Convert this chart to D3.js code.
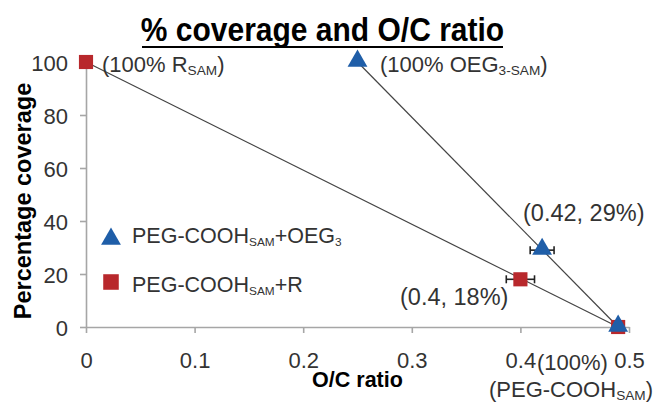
<!DOCTYPE html>
<html>
<head>
<meta charset="utf-8">
<script src="https://cdn.jsdelivr.net/npm/d3@7"></script>
<style>
  body { margin: 0; background: #fff; }
  svg text { font-family: "Liberation Sans", Arial, sans-serif; }
</style>
</head>
<body>
<svg id="chart" width="657" height="405"></svg>
<script>
// data
const xTicks = [0, 0.1, 0.2, 0.3, 0.4, 0.5];
const yTicks = [0, 20, 40, 60, 80, 100];
const oegX = [0.25, 0.42, 0.49];
const oegY = [100, 29, 0];
const oegErr = [0, 0.011, 0.004];
const rX = [0, 0.4, 0.49];
const rY = [100, 18, 0];
const rErr = [0, 0.013, 0];

const blue = '#1f5ea8';
const red = '#b8282c';

const width = 657, height = 405;
const margin = { top: 62, right: 28, bottom: 78, left: 86 };

const svg = d3.select('#chart');

const x = d3.scaleLinear().domain([0, 0.5]).range([margin.left, width - margin.right]);
const y = d3.scaleLinear().domain([0, 100]).range([height - margin.bottom, margin.top]);

// axes
const xAxis = svg.append('g')
  .attr('transform', `translate(0,${y(0)})`)
  .call(d3.axisBottom(x).tickValues(xTicks).tickSize(6).tickSizeOuter(0).tickFormat(d3.format('')));
const yAxis = svg.append('g')
  .attr('transform', `translate(${x(0)},0)`)
  .call(d3.axisLeft(y).tickValues(yTicks).tickSize(6).tickSizeOuter(0));
[xAxis, yAxis].forEach(g => {
  g.selectAll('path, line').attr('stroke', '#a6a6a6').attr('stroke-width', 1.6);
  g.selectAll('text').attr('fill', '#333').style('font-size', '22px');
});
xAxis.selectAll('.tick text').attr('dy', null).attr('y', 41);
yAxis.selectAll('.tick text').attr('dy', null).attr('x', -18).attr('y', 8);

// fit lines
svg.append('line')
  .attr('x1', x(rX[0])).attr('y1', y(rY[0]))
  .attr('x2', x(rX[2])).attr('y2', y(rY[2]))
  .attr('stroke', '#444').attr('stroke-width', 1.2);
svg.append('line')
  .attr('x1', x(oegX[0])).attr('y1', y(oegY[0]))
  .attr('x2', x(oegX[2])).attr('y2', y(oegY[2]))
  .attr('stroke', '#444').attr('stroke-width', 1.2);

const rData = rX.map((v, i) => ({ x: v, y: rY[i], e: rErr[i] }));
const oegData = oegX.map((v, i) => ({ x: v, y: oegY[i], e: oegErr[i] }));

// error bars
function errBars(data) {
  const g = svg.append('g').attr('stroke', '#222').attr('stroke-width', 1.6);
  data.filter(d => d.e > 0).forEach(d => {
    g.append('line').attr('x1', x(d.x - d.e)).attr('x2', x(d.x + d.e))
      .attr('y1', y(d.y)).attr('y2', y(d.y));
    g.append('line').attr('x1', x(d.x - d.e)).attr('x2', x(d.x - d.e))
      .attr('y1', y(d.y) - 4).attr('y2', y(d.y) + 4);
    g.append('line').attr('x1', x(d.x + d.e)).attr('x2', x(d.x + d.e))
      .attr('y1', y(d.y) - 4).attr('y2', y(d.y) + 4);
  });
}
errBars(rData);
errBars(oegData);

const sq = d3.symbol().type(d3.symbolSquare).size(200);
const tri = d3.symbol().type(d3.symbolTriangle).size(170);

svg.selectAll('.r').data(rData).enter().append('path')
  .attr('class', 'r')
  .attr('d', sq)
  .attr('transform', d => `translate(${x(d.x)},${y(d.y)})`)
  .attr('fill', red);
svg.selectAll('.o').data(oegData).enter().append('path')
  .attr('class', 'o')
  .attr('d', tri)
  .attr('transform', d => `translate(${x(d.x)},${y(d.y) - 1})`)
  .attr('fill', blue);

// title
svg.append('text')
  .attr('transform', `translate(322.5,41) scale(1,1.12)`)
  .style('text-anchor', 'middle')
  .style('font-size', '30px').style('font-weight', 'bold')
  .text('% coverage and O/C ratio');
svg.append('line')
  .attr('x1', 142).attr('x2', 503).attr('y1', 47).attr('y2', 47)
  .attr('stroke', '#000').attr('stroke-width', 2.2);

// axis labels
svg.append('text')
  .attr('x', 357.5).attr('y', 387)
  .style('text-anchor', 'middle')
  .style('font-size', '21.5px').style('font-weight', 'bold')
  .text('O/C ratio');
svg.append('text')
  .attr('transform', `translate(31,201) rotate(-90)`)
  .style('text-anchor', 'middle')
  .style('font-size', '23.5px').style('font-weight', 'bold')
  .text('Percentage coverage');

// annotations
function label(px, py, parts, size, sub) {
  const t = svg.append('text')
    .attr('x', px).attr('y', py)
    .attr('fill', '#333').style('font-size', size + 'px');
  parts.forEach(p => {
    const s = t.append('tspan').text(p[0]);
    if (p[1]) s.style('font-size', (size * sub) + 'px').attr('dy', 3);
    else if (p[2]) s.attr('dy', -3);
  });
  return t;
}
label(102, 72, [['(100%  R'], ['SAM', true], [')', false, true]], 22, 0.62);
label(380, 72, [['(100% OEG'], ['3-SAM', true], [')', false, true]], 22, 0.62);
label(523, 221, [['(0.42, 29%)']], 23.5);
label(400, 305, [['(0.4, 18%)']], 23.5);
label(537, 370, [['(100%)']], 22);
label(489, 397, [['(PEG-COOH'], ['SAM', true], [')', false, true]], 22, 0.62);

// legend
svg.append('path').attr('d', tri)
  .attr('transform', 'translate(111,239)').attr('fill', blue);
label(132, 243, [['PEG-COOH'], ['SAM', true], ['+OEG', false, true], ['3', true]], 21.5, 0.55);
svg.append('path').attr('d', sq)
  .attr('transform', 'translate(111,282) scale(1.1)').attr('fill', red);
label(132, 292, [['PEG-COOH'], ['SAM', true], ['+R', false, true]], 21.5, 0.55);
</script>
</body>
</html>
